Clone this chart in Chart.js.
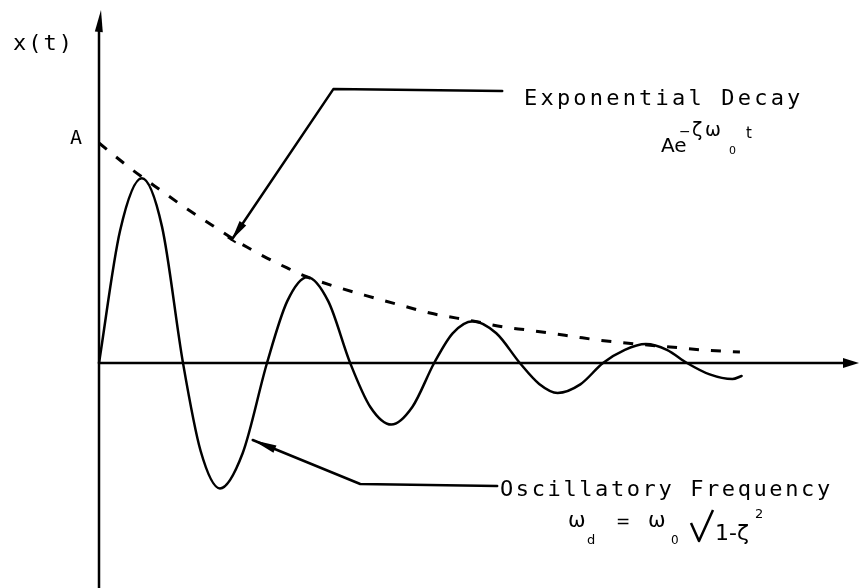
<!DOCTYPE html>
<html>
<head>
<meta charset="utf-8">
<title>Damped oscillation</title>
<script src="https://cdn.jsdelivr.net/npm/chart.js@4.4.1/dist/chart.umd.min.js"></script>
<style>
  html, body { margin: 0; padding: 0; background: #ffffff; }
  #wrap { width: 859px; height: 588px; }
  canvas { display: block; }
</style>
</head>
<body>
<div id="wrap"><canvas id="c" width="859" height="588"></canvas></div>
<script>
// Time in half-periods of the damped oscillation, amplitude in units of A.
const oscT = [0, 0.25, 0.51, 0.75, 1.00, 1.21, 1.44, 1.71, 2.00, 2.24, 2.48, 2.73,
              2.99, 3.23, 3.48, 3.73, 3.99, 4.21, 4.45, 4.73, 5.01, 5.24, 5.46, 5.73,
              6.00, 6.26, 6.51, 6.76, 7.00, 7.27, 7.54, 7.65];
const oscX = [0, 0.60, 0.84, 0.62, 0, -0.40, -0.57, -0.41, 0, 0.28, 0.39, 0.28,
              0, -0.20, -0.28, -0.20, 0, 0.135, 0.19, 0.135, 0, -0.095, -0.136, -0.097,
              0, 0.06, 0.086, 0.06, 0, -0.052, -0.073, -0.059];

// Exponential envelope A·e^(−ζω0 t)
const envT = [0, 0.37, 0.73, 1.05, 1.36, 1.58, 1.76, 2.00, 2.24, 2.48, 2.75, 3.19, 3.58,
              3.94, 4.45, 4.81, 5.10, 5.37, 5.69, 5.93, 6.17, 6.40, 6.80, 7.19, 7.63];
const envX = [1.00, 0.886, 0.786, 0.700, 0.623, 0.568, 0.527, 0.477, 0.432, 0.391, 0.355, 0.305, 0.264,
              0.227, 0.191, 0.164, 0.150, 0.136, 0.118, 0.105, 0.095, 0.086, 0.073, 0.059, 0.050];

// Callout leaders (arrow tip first)
const decayLeaderT = [1.58, 2.79, 4.80];
const decayLeaderX = [0.56, 1.245, 1.236];
const freqLeaderT = [1.83, 3.11, 4.74];
const freqLeaderX = [-0.35, -0.55, -0.559];

// Axes extents
const tAxis = [0, 8.88];
const xAxisTop = 1.514;
const T_MIN = -1.1786, T_MAX = 9.0476;
const X_MIN = -1.0227, X_MAX = 1.65;

// Text
const yAxisLabel = 'x(t)';
const ampLabel = 'A';
const decayLabel = 'Exponential Decay';
const freqLabel = 'Oscillatory Frequency';

const pts = (ts, xs) => ts.map((t, i) => ({ x: t, y: xs[i] }));

const lineStyle = (data, extra) => Object.assign({
  data, borderColor: '#000', borderWidth: 2.5, pointRadius: 0, fill: false,
  tension: 0, clip: false, borderCapStyle: 'round', borderJoinStyle: 'round'
}, extra);

function head(ctx, tipX, tipY, fromX, fromY, len, half) {
  const a = Math.atan2(tipY - fromY, tipX - fromX);
  const bx = tipX - len * Math.cos(a), by = tipY - len * Math.sin(a);
  const nx = -Math.sin(a) * half, ny = Math.cos(a) * half;
  ctx.beginPath();
  ctx.moveTo(tipX, tipY);
  ctx.lineTo(bx + nx, by + ny);
  ctx.lineTo(bx - nx, by - ny);
  ctx.closePath();
  ctx.fill();
}

const decorations = {
  id: 'decorations',
  afterDatasetsDraw(chart) {
    const ctx = chart.ctx;
    const sx = chart.scales.x, sy = chart.scales.y;
    const px = v => sx.getPixelForValue(v), py = v => sy.getPixelForValue(v);
    ctx.save();
    ctx.fillStyle = '#000';
    ctx.strokeStyle = '#000';

    // axis arrowheads
    head(ctx, px(0) + 2, py(X_MAX - 0.045), px(0), py(xAxisTop), 22, 4);
    head(ctx, px(T_MAX), py(0), px(tAxis[1]), py(0), 16, 5);

    // callout arrowheads
    head(ctx, px(decayLeaderT[0]), py(decayLeaderX[0]), px(decayLeaderT[1]), py(decayLeaderX[1]), 20, 4);
    head(ctx, px(freqLeaderT[0]), py(freqLeaderX[0]), px(freqLeaderT[1]), py(freqLeaderX[1]), 24, 4);
    // small cross bar at the decay arrow tip
    {
      const tx = px(decayLeaderT[0]), ty = py(decayLeaderX[0]);
      ctx.lineWidth = 2;
      ctx.beginPath();
      ctx.moveTo(tx - 4, ty - 2.5);
      ctx.lineTo(tx + 4, ty + 2.5);
      ctx.stroke();
    }

    // labels
    ctx.textBaseline = 'alphabetic';
    ctx.textAlign = 'left';
    const mono = '"DejaVu Sans Mono", "Liberation Mono", monospace';
    const sans = '"DejaVu Sans", "Liberation Sans", sans-serif';
    const text = (s, x, y, font, ls) => {
      ctx.font = font;
      ctx.letterSpacing = (ls || 0) + 'px';
      ctx.fillText(s, x, y);
    };
    text(yAxisLabel, 13, 50, '22px ' + mono, 2);
    ctx.textAlign = 'center';
    text(ampLabel, 76, 144, '20px ' + mono, 0);
    ctx.textAlign = 'left';
    text(decayLabel, 524, 105, '22px ' + mono, 3.2);
    text(freqLabel, 500, 496, '22px ' + mono, 2.6);

    // A e^{-ζ ω0 t}
    text('Ae', 661, 152, '20px ' + sans, 0);
    text('\u2212', 679, 136, '14px ' + sans, 0);
    text('ζ', 692, 136, '19px ' + sans, 0);
    text('ω', 705, 136, '19px ' + sans, 0);
    text('0', 729, 154, '11px ' + sans, 0);
    text('t', 746, 138, '15px ' + sans, 0);

    // ω_d = ω_0 √(1-ζ²)
    text('ω', 568, 527, '21px ' + sans, 0);
    text('d', 587, 544, '13px ' + sans, 0);
    text('=', 616, 527, '17px ' + sans, 0);
    text('ω', 648, 527, '21px ' + sans, 0);
    text('0', 671, 544, '12px ' + sans, 0);
    ctx.lineWidth = 2.5;
    ctx.lineJoin = 'round';
    ctx.beginPath();
    ctx.moveTo(691, 523);
    ctx.lineTo(699, 541);
    ctx.lineTo(713, 510);
    ctx.stroke();
    text('1-ζ', 715, 540, '22px ' + sans, 0);
    text('2', 755, 518, '13px ' + sans, 0);

    ctx.restore();
  }
};

new Chart(document.getElementById('c'), {
  type: 'line',
  data: {
    datasets: [
      lineStyle(pts([0, 0], [X_MIN, xAxisTop]), { borderWidth: 2.5 }),
      lineStyle(pts(tAxis, [0, 0]), { borderWidth: 2.5 }),
      lineStyle(pts(envT, envX), { borderWidth: 3, borderDash: [10, 12], borderCapStyle: 'butt', cubicInterpolationMode: 'monotone' }),
      lineStyle(pts(oscT, oscX), { borderWidth: 2.5, cubicInterpolationMode: 'monotone' }),
      lineStyle(pts(decayLeaderT, decayLeaderX), { borderWidth: 2.5 }),
      lineStyle(pts(freqLeaderT, freqLeaderX), { borderWidth: 2.5 })
    ]
  },
  options: {
    responsive: false,
    animation: false,
    devicePixelRatio: 1,
    layout: { padding: 0 },
    events: [],
    plugins: { legend: { display: false }, tooltip: { enabled: false } },
    scales: {
      x: { type: 'linear', min: T_MIN, max: T_MAX, display: false },
      y: { type: 'linear', min: X_MIN, max: X_MAX, display: false }
    }
  },
  plugins: [decorations]
});
</script>
</body>
</html>
